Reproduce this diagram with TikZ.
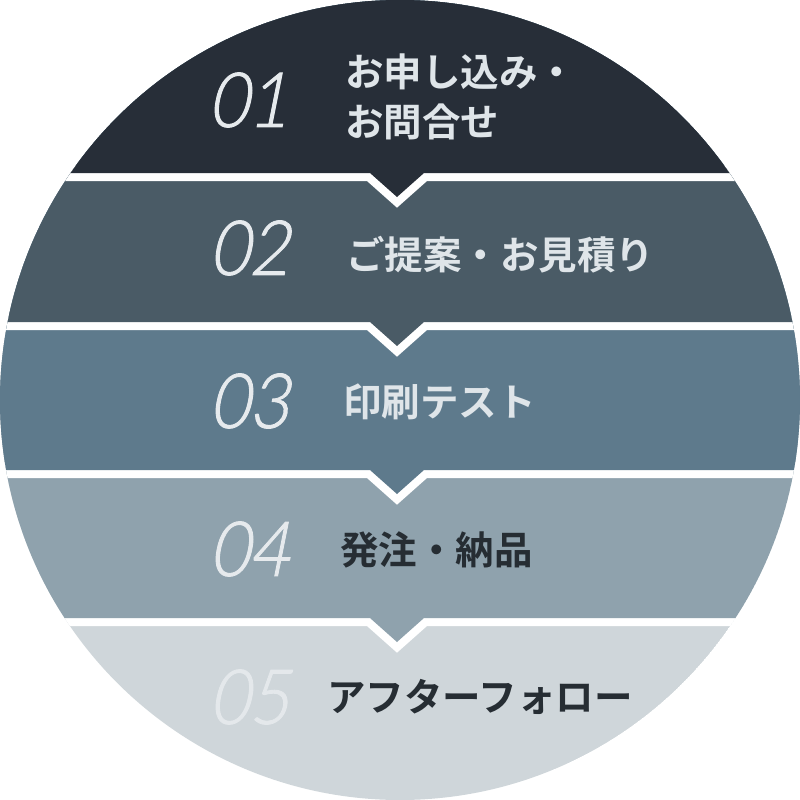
\documentclass[tikz,border=0pt]{standalone}
\usepackage{fontspec}
\newfontfamily\cjk{Noto Sans CJK JP}[BoldFont=* Bold]
\newfontfamily\numfont{Lato Light}[FakeSlant=0.2,FakeStretch=0.9,FakeBold=1.2]
\definecolor{bandA}{HTML}{272E38}
\definecolor{bandB}{HTML}{4A5B66}
\definecolor{bandC}{HTML}{5E7A8C}
\definecolor{bandD}{HTML}{8FA2AD}
\definecolor{bandE}{HTML}{CFD6DA}
\definecolor{lighttext}{HTML}{DFE5E9}
\definecolor{darktext}{HTML}{262D33}
\definecolor{numlight}{HTML}{E6EAED}
\definecolor{numfaint}{HTML}{E4E8EB}
\tikzset{
  numlabel/.style={inner sep=0pt, anchor=center, font=\numfont\fontsize{76}{76}\selectfont},
  steplabel/.style={inner sep=0pt, anchor=west, align=left, font=\cjk\bfseries\fontsize{38.5}{50}\selectfont},
  gapline/.style={draw=white, line width=16pt, line join=miter},
}
\newcommand{\bandshape}[1]{(-20,-20) -- (820,-20) -- (820,#1) -- (424,#1) -- (397,#1+24) -- (370,#1) -- (-20,#1) -- cycle}
\begin{document}
\begin{tikzpicture}[x=1pt,y=-1pt]
\useasboundingbox (0,0) rectangle (800,800);
\begin{scope}
\clip (400,400) circle[radius=400];
\fill[bandE] (400,400) circle[radius=400];
\foreach \yy/\cc in {618/bandD,470/bandC,322/bandB,173/bandA}{
  \draw[gapline] \bandshape{\yy};
  \fill[\cc] \bandshape{\yy};
}
\end{scope}
\node[numlabel, text=numlight] (n1) at (248,100) {01};
\node[numlabel, text=numlight] (n2) at (249,248) {02};
\node[numlabel, text=numlight] (n3) at (249,401) {03};
\node[numlabel, text=numlight] (n4) at (249,549) {04};
\node[numlabel, text=numfaint] (n5) at (249,697) {05};
\node[steplabel, text=lighttext] (t1) at (345,97) {お申し込み・\\お問合せ};
\node[steplabel, text=lighttext] (t2) at (346,255) {ご提案・お見積り};
\node[steplabel, text=lighttext] (t3) at (343,402) {印刷テスト};
\node[steplabel, text=darktext] (t4) at (340,550) {発注・納品};
\node[steplabel, text=darktext] (t5) at (327,697) {アフターフォロー};
\end{tikzpicture}
\end{document}
